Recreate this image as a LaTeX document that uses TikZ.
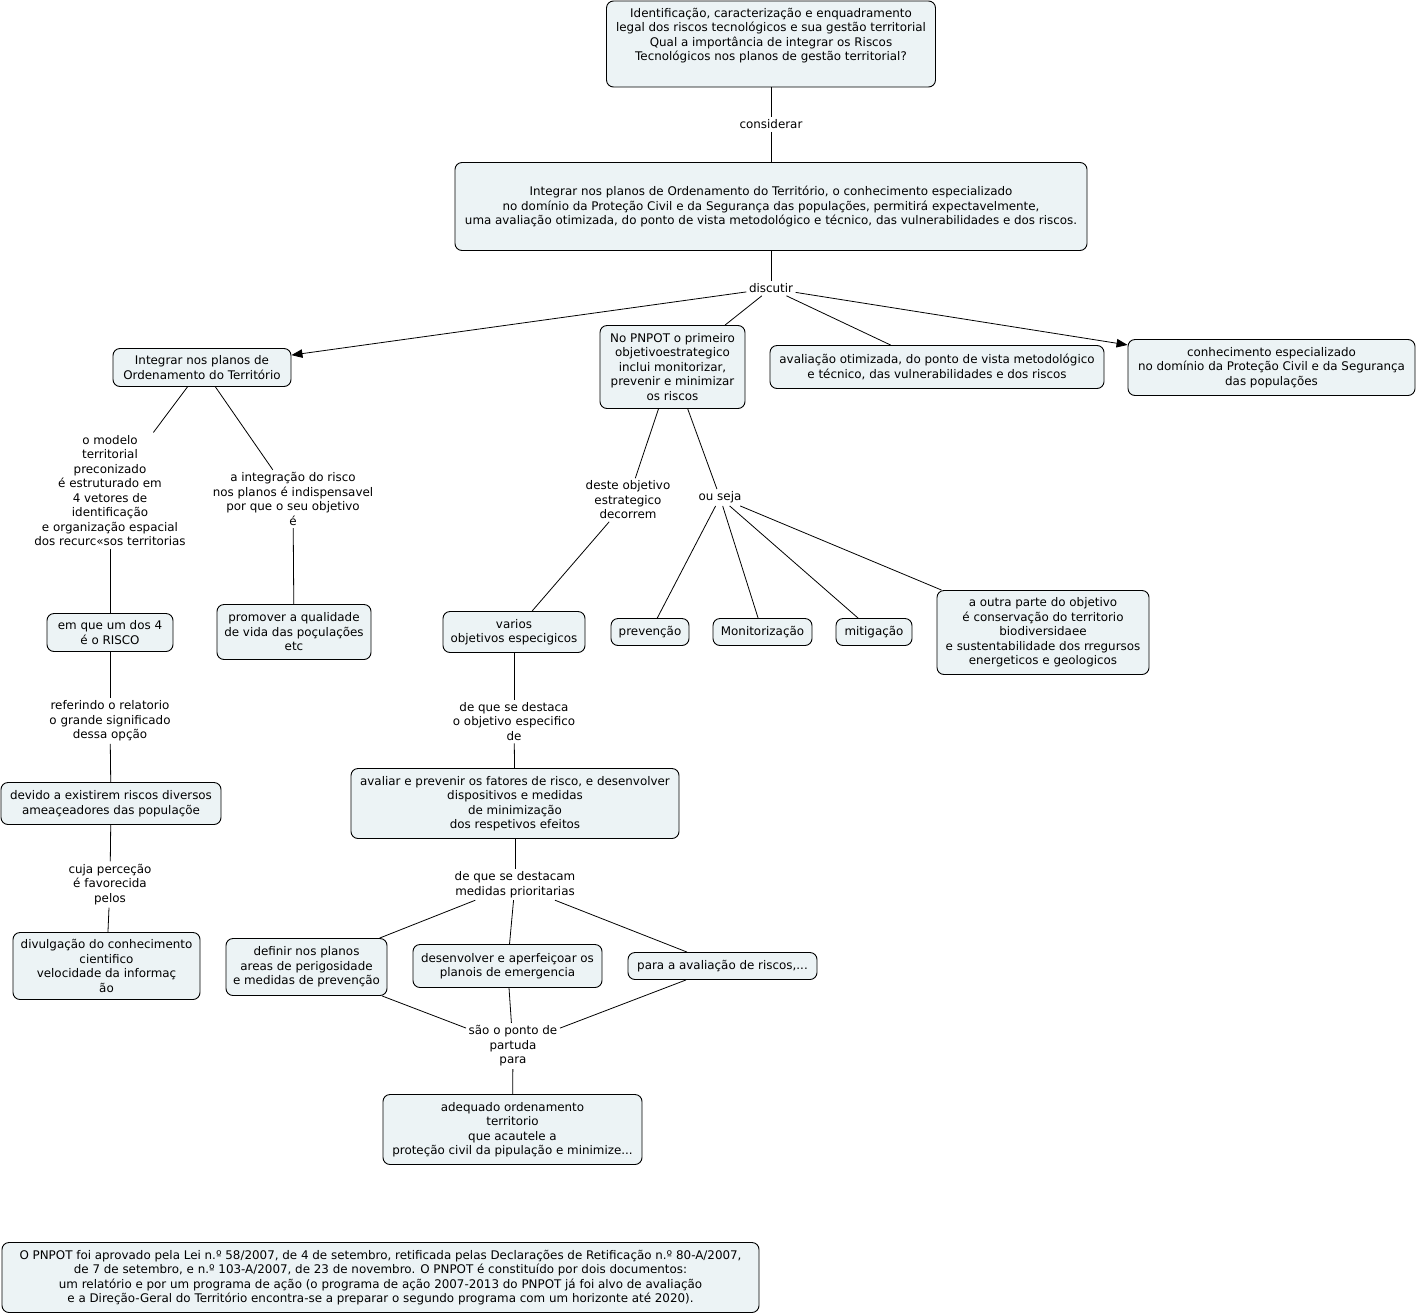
\documentclass[tikz,border=0pt]{standalone}
\usepackage{fontspec}
\setmainfont{DejaVu Sans}
\usetikzlibrary{arrows.meta}
\definecolor{boxfill}{RGB}{236,243,245}
\begin{document}
\begin{tikzpicture}[x=1pt,y=-1pt,
  concept/.style={draw=black, line width=0.9pt, fill=boxfill, rounded corners=7pt, align=center, inner sep=0pt, font=\fontsize{11.9}{14.5}\selectfont},
  linkl/.style={align=center, inner sep=2.5pt, font=\fontsize{11.9}{14.5}\selectfont},
  conn/.style={line width=0.8pt},
  arr/.style={conn, -{Triangle[length=11pt,width=8.5pt]}}]
\useasboundingbox (0,0) rectangle (1417,1315);

% concepts
\node[concept, minimum width=329pt, minimum height=86pt] (top) at (771,44) {Identificação, caracterização e enquadramento\\legal dos riscos tecnológicos e sua gestão territorial\\Qual a importância de integrar os Riscos\\Tecnológicos nos planos de gestão territorial?\\\strut};
\node[concept, minimum width=632pt, minimum height=88pt] (big) at (771,206.5) {Integrar nos planos de Ordenamento do Território, o conhecimento especializado\\no domínio da Proteção Civil e da Segurança das populações, permitirá expectavelmente,\\uma avaliação otimizada, do ponto de vista metodológico e técnico, das vulnerabilidades e dos riscos.};
\node[concept, minimum width=178pt, minimum height=38pt] (intL) at (202,367.5) {Integrar nos planos de\\Ordenamento do Território};
\node[concept, minimum width=145pt, minimum height=83pt] (pnpot) at (672.5,367) {No PNPOT o primeiro\\objetivoestrategico\\inclui monitorizar,\\prevenir e minimizar\\os riscos};
\node[concept, minimum width=334pt, minimum height=43pt] (aval) at (937,367) {avaliação otimizada, do ponto de vista metodológico\\e técnico, das vulnerabilidades e dos riscos};
\node[concept, minimum width=287pt, minimum height=56pt] (conh) at (1271.5,367.5) {conhecimento especializado\\no domínio da Proteção Civil e da Segurança\\das populações};
\node[concept, minimum width=126pt, minimum height=38pt] (emque) at (110,632.5) {em que um dos 4\\é o RISCO};
\node[concept, minimum width=154pt, minimum height=55pt] (promover) at (294,632) {promover a qualidade\\de vida das poçulações\\etc};
\node[concept, minimum width=220pt, minimum height=42pt] (devido) at (111,803.5) {devido a existirem riscos diversos\\ameaçeadores das populaçõe};
\node[concept, minimum width=187pt, minimum height=67pt] (divulg) at (106.5,966) {divulgação do conhecimento\\cientifico\\velocidade da informaç\\ão};
\node[concept, minimum width=142pt, minimum height=41pt] (varios) at (514,632) {varios\\objetivos especigicos};
\node[concept, minimum width=78pt, minimum height=27pt] (prev) at (650,632) {prevenção};
\node[concept, minimum width=99pt, minimum height=27pt] (monit) at (762.5,632) {Monitorização};
\node[concept, minimum width=76pt, minimum height=27pt] (mitig) at (874,632) {mitigação};
\node[concept, minimum width=212pt, minimum height=84pt] (outra) at (1043,632.5) {a outra parte do objetivo\\é conservação do territorio\\biodiversidaee\\e sustentabilidade dos rregursos\\energeticos e geologicos};
\node[concept, minimum width=328pt, minimum height=70pt] (avaliar) at (515,803.5) {avaliar e prevenir os fatores de risco, e desenvolver\\dispositivos e medidas\\de minimização\\dos respetivos efeitos};
\node[concept, minimum width=161pt, minimum height=57pt] (definir) at (306.5,967) {definir nos planos\\areas de perigosidade\\e medidas de prevenção};
\node[concept, minimum width=189pt, minimum height=43pt] (desenv) at (507.5,966) {desenvolver e aperfeiçoar os\\planois de emergencia};
\node[concept, minimum width=189pt, minimum height=27pt] (para) at (722.5,966) {para a avaliação de riscos,...};
\node[concept, minimum width=259pt, minimum height=70pt] (adeq) at (512.5,1129.5) {adequado ordenamento\\territorio\\que acautele a\\proteção civil da pipulação e minimize...};
\node[concept, minimum width=757pt, minimum height=70pt] (note) at (380.5,1277.5) {O PNPOT foi aprovado pela Lei n.º 58/2007, de 4 de setembro, retificada pelas Declarações de Retificação n.º 80-A/2007,\\de 7 de setembro, e n.º 103-A/2007, de 23 de novembro. O PNPOT é constituído por dois documentos:\\um relatório e por um programa de ação (o programa de ação 2007-2013 do PNPOT já foi alvo de avaliação\\e a Direção-Geral do Território encontra-se a preparar o segundo programa com um horizonte até 2020).};

% linking phrases
\node[linkl] (considerar) at (771,124.5) {considerar};
\node[linkl] (discutir) at (771,288.5) {discutir};
\node[linkl] (modelo) at (110,490.5) {o modelo\\territorial\\preconizado\\é estruturado em\\4 vetores de\\identificação\\e organização espacial\\dos recurc«sos territorias};
\node[linkl] (integ) at (293,499) {a integração do risco\\nos planos é indispensavel\\por que o seu objetivo\\é};
\node[linkl] (referindo) at (110,721) {referindo o relatorio\\o grande significado\\dessa opção};
\node[linkl] (cuja) at (110,884.5) {cuja perceção\\é favorecida\\pelos};
\node[linkl] (deste) at (628,500) {deste objetivo\\estrategico\\decorrem};
\node[linkl] (ouseja) at (720,497.5) {ou seja};
\node[linkl] (destaca) at (514,721.5) {de que se destaca\\o objetivo especifico\\de};
\node[linkl] (destacam) at (515,884.5) {de que se destacam\\medidas prioritarias};
\node[linkl] (sao) at (513,1046) {são o ponto de\\partuda\\para};

% connectors
\draw[conn] (top) -- (considerar);
\draw[conn] (considerar) -- (big);
\draw[conn] (big) -- (discutir);
\draw[arr] (discutir) -- (intL);
\draw[conn] (discutir) -- (pnpot);
\draw[conn] (discutir) -- (aval);
\draw[arr] (discutir) -- (conh);
\draw[conn] (intL) -- (modelo);
\draw[conn] (modelo) -- (emque);
\draw[conn] (intL) -- (integ);
\draw[conn] (integ) -- (promover);
\draw[conn] (emque) -- (referindo);
\draw[conn] (referindo) -- (devido);
\draw[conn] (devido) -- (cuja);
\draw[conn] (cuja) -- (divulg);
\draw[conn] (pnpot) -- (deste);
\draw[conn] (deste) -- (varios);
\draw[conn] (pnpot) -- (ouseja);
\draw[conn] (ouseja) -- (prev);
\draw[conn] (ouseja) -- (monit);
\draw[conn] (ouseja) -- (mitig);
\draw[conn] (ouseja) -- (outra);
\draw[conn] (varios) -- (destaca);
\draw[conn] (destaca) -- (avaliar);
\draw[conn] (avaliar) -- (destacam);
\draw[conn] (destacam) -- (definir);
\draw[conn] (destacam) -- (desenv);
\draw[conn] (destacam) -- (para);
\draw[conn] (definir) -- (sao);
\draw[conn] (desenv) -- (sao);
\draw[conn] (para) -- (sao);
\draw[conn] (sao) -- (adeq);
\end{tikzpicture}
\end{document}
